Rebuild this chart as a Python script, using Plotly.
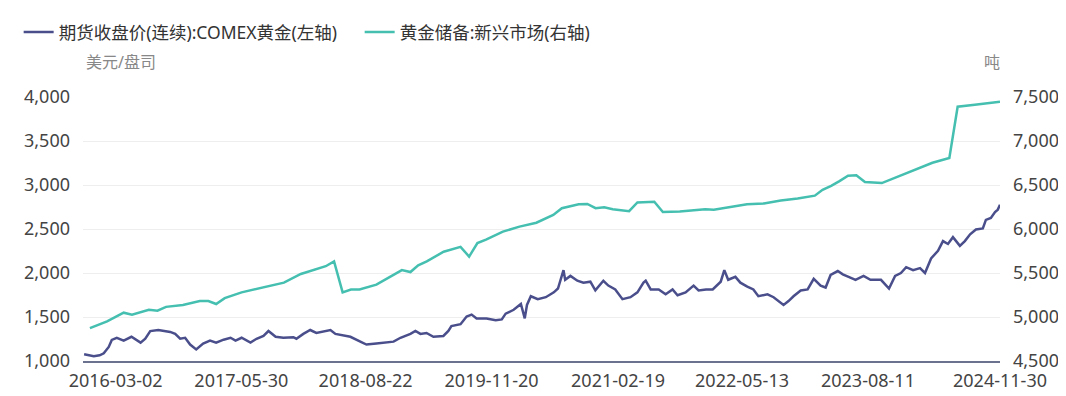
import plotly.graph_objects as go

# ---------------- data ----------------
gold_dates = [
    "2015-11-09", "2015-11-26", "2015-12-14", "2016-01-04", "2016-01-19", "2016-02-06", "2016-02-17",
    "2016-03-06", "2016-03-31", "2016-04-28", "2016-05-31", "2016-06-17", "2016-07-05", "2016-08-03",
    "2016-09-15", "2016-10-03", "2016-10-21", "2016-11-08", "2016-11-26", "2016-12-18", "2017-01-12",
    "2017-02-06", "2017-02-28", "2017-03-27", "2017-04-21", "2017-05-09", "2017-05-31", "2017-07-02",
    "2017-07-24", "2017-08-18", "2017-09-05", "2017-10-01", "2017-10-29", "2017-12-04", "2017-12-15",
    "2018-01-09", "2018-02-03", "2018-02-25", "2018-03-30", "2018-04-17", "2018-05-05", "2018-06-03",
    "2018-06-28", "2018-08-03", "2018-08-25", "2018-09-30", "2018-10-26", "2018-12-01", "2018-12-26",
    "2019-01-31", "2019-02-18", "2019-03-08", "2019-03-30", "2019-04-24", "2019-05-30", "2019-06-17",
    "2019-06-28", "2019-07-31", "2019-08-22", "2019-09-09", "2019-09-27", "2019-11-02", "2019-12-05",
    "2019-12-27", "2020-01-10", "2020-02-08", "2020-03-05", "2020-03-19", "2020-03-27", "2020-04-10",
    "2020-05-05", "2020-06-03", "2020-07-02", "2020-07-17", "2020-08-06", "2020-08-12", "2020-08-31",
    "2020-09-25", "2020-10-17", "2020-11-11", "2020-11-29", "2020-12-28", "2021-01-15", "2021-02-09",
    "2021-03-07", "2021-04-05", "2021-04-30", "2021-05-22", "2021-05-30", "2021-06-17", "2021-07-16",
    "2021-08-10", "2021-09-04", "2021-09-22", "2021-10-21", "2021-11-19", "2021-12-07", "2022-01-03",
    "2022-01-27", "2022-02-25", "2022-03-10", "2022-03-24", "2022-04-19", "2022-05-07", "2022-06-01",
    "2022-06-23", "2022-07-11", "2022-08-13", "2022-09-04", "2022-09-29", "2022-10-10", "2022-10-28",
    "2022-11-15", "2022-12-11", "2023-01-05", "2023-01-27", "2023-02-21", "2023-03-11", "2023-03-29",
    "2023-04-24", "2023-05-12", "2023-06-02", "2023-06-27", "2023-07-26", "2023-08-20", "2023-09-27",
    "2023-10-15", "2023-10-26", "2023-11-17", "2023-12-08", "2023-12-27", "2024-01-21", "2024-02-15",
    "2024-03-04", "2024-03-26", "2024-04-20", "2024-05-08", "2024-05-26", "2024-06-13", "2024-07-08",
    "2024-07-26", "2024-08-14", "2024-09-04", "2024-09-29", "2024-10-10", "2024-10-28", "2024-11-12",
    "2024-11-22", "2024-11-30",
]
gold_price = [
    1077, 1065, 1055, 1065, 1088, 1160, 1240,
    1264, 1231, 1275, 1209, 1253, 1340, 1352,
    1330, 1308, 1253, 1264, 1187, 1132, 1198,
    1231, 1209, 1242, 1264, 1231, 1264, 1209,
    1253, 1286, 1341, 1275, 1264, 1270, 1253,
    1308, 1352, 1319, 1341, 1352, 1308, 1286,
    1275, 1220, 1187, 1198, 1209, 1220, 1264,
    1308, 1341, 1308, 1319, 1275, 1285, 1341,
    1396, 1418, 1505, 1527, 1484, 1484, 1462,
    1473, 1538, 1582, 1648, 1484, 1637, 1736,
    1703, 1725, 1780, 1824, 2033, 1923, 1967,
    1912, 1890, 1901, 1802, 1912, 1857, 1813,
    1703, 1725, 1780, 1890, 1912, 1813, 1813,
    1758, 1813, 1747, 1780, 1857, 1802, 1813,
    1813, 1901, 2033, 1923, 1956, 1890, 1846,
    1813, 1736, 1758, 1725, 1670, 1637, 1681,
    1736, 1802, 1813, 1934, 1857, 1835, 1978,
    2022, 1985, 1956, 1923, 1967, 1923, 1923,
    1868, 1824, 1967, 2000, 2066, 2033, 2055,
    2000, 2165, 2253, 2363, 2330, 2407, 2308,
    2363, 2440, 2495, 2506, 2604, 2626, 2692,
    2720, 2775,
]

reserve_dates = [
    "2015-11-30", "2016-01-31", "2016-03-31", "2016-04-30", "2016-06-30", "2016-07-31", "2016-08-31",
    "2016-10-31", "2016-12-31", "2017-01-31", "2017-02-28", "2017-03-31", "2017-05-31", "2017-07-31",
    "2017-09-30", "2017-10-31", "2017-12-31", "2018-01-31", "2018-03-31", "2018-04-30", "2018-05-31",
    "2018-06-30", "2018-07-31", "2018-09-30", "2018-10-31", "2018-12-31", "2019-01-31", "2019-02-28",
    "2019-03-31", "2019-05-31", "2019-07-31", "2019-08-31", "2019-09-30", "2019-10-31", "2019-12-31",
    "2020-02-29", "2020-04-30", "2020-06-30", "2020-07-31", "2020-09-30", "2020-10-31", "2020-11-30",
    "2020-12-31", "2021-01-31", "2021-03-31", "2021-04-30", "2021-06-30", "2021-07-31", "2021-09-30",
    "2021-12-31", "2022-01-31", "2022-03-31", "2022-05-31", "2022-07-31", "2022-09-30", "2022-11-30",
    "2023-01-31", "2023-02-28", "2023-03-31", "2023-04-30", "2023-05-31", "2023-06-30", "2023-07-31",
    "2023-09-30", "2023-11-30", "2024-01-31", "2024-03-31", "2024-05-31", "2024-06-30", "2024-08-31",
    "2024-10-31", "2024-11-30",
]
reserve_tonnes = [
    4874, 4951, 5049, 5027, 5082, 5071, 5115,
    5137, 5181, 5181, 5148, 5214, 5280, 5324,
    5368, 5390, 5489, 5522, 5577, 5632, 5280,
    5313, 5313, 5368, 5423, 5533, 5511, 5588,
    5632, 5742, 5797, 5687, 5840, 5880, 5970,
    6027, 6071, 6159, 6236, 6280, 6285, 6236,
    6247, 6225, 6203, 6302, 6310, 6192, 6200,
    6225, 6220, 6247, 6280, 6291, 6324, 6346,
    6379, 6445, 6490, 6544, 6605, 6610, 6533,
    6522, 6599, 6676, 6753, 6808, 7390, 7412,
    7434, 7445,
]

x_tick_dates = ["2016-03-02", "2017-05-30", "2018-08-22", "2019-11-20",
                "2021-02-19", "2022-05-13", "2023-08-11", "2024-11-30"]
y_left_ticks = [1000, 1500, 2000, 2500, 3000, 3500, 4000]
y_right_ticks = [4500, 5000, 5500, 6000, 6500, 7000, 7500]

name_gold = "期货收盘价(连续):COMEX黄金(左轴)"
name_res = "黄金储备:新兴市场(右轴)"
unit_left = "美元/盘司"
unit_right = "吨"

# ---------------- figure ----------------
FONT = "Noto Sans, Noto Sans CJK SC, sans-serif"
GOLD_COLOR = "#4a4f8c"
RES_COLOR = "#45bfb0"
TICK_FONT = dict(size=18, color="#444444")

fig = go.Figure()
fig.add_trace(go.Scatter(x=gold_dates, y=gold_price, name=name_gold, mode="lines",
                         line=dict(color=GOLD_COLOR, width=2.5), yaxis="y"))
fig.add_trace(go.Scatter(x=reserve_dates, y=reserve_tonnes, name=name_res, mode="lines",
                         line=dict(color=RES_COLOR, width=2.5), yaxis="y2"))

fig.update_layout(
    width=1066, height=396,
    margin=dict(l=75, r=74, t=89, b=35),
    paper_bgcolor="white", plot_bgcolor="white",
    font=dict(family=FONT, color="#333333"),
    showlegend=True,
    legend=dict(orientation="h", xref="container", yref="container",
                x=0.01, y=0.939, xanchor="left", yanchor="middle",
                font=dict(size=17.5, color="#333333"), itemwidth=30,
                entrywidth=296, entrywidthmode="pixels",
                bgcolor="rgba(0,0,0,0)"),
    xaxis=dict(type="date", range=["2015-11-05", "2024-11-30"],
               tickmode="array", tickvals=x_tick_dates, ticktext=x_tick_dates,
               showgrid=False, showline=True, linecolor="#6b7290", linewidth=1.5,
               ticks="", tickfont=TICK_FONT, zeroline=False, ticklabelstandoff=3),
    yaxis=dict(range=[1000, 4000], tickmode="array", tickvals=y_left_ticks,
               tickformat=",d", showgrid=True, gridcolor="#eeeeee", gridwidth=1,
               zeroline=False, showline=False, ticks="",
               tickfont=TICK_FONT, ticklabelstandoff=12),
    yaxis2=dict(range=[4500, 7500], tickmode="array", tickvals=y_right_ticks,
                tickformat=",d", overlaying="y", side="right", showgrid=False,
                zeroline=False, showline=False, ticks="",
                tickfont=TICK_FONT, ticklabelstandoff=12),
    annotations=[
        dict(text=unit_left, xref="paper", yref="paper", x=0.001, y=1.132,
             xanchor="left", yanchor="middle", showarrow=False,
             font=dict(size=16, color="#888888")),
        dict(text=unit_right, xref="paper", yref="paper", x=0.991, y=1.132,
             xanchor="center", yanchor="middle", showarrow=False,
             font=dict(size=16, color="#888888")),
    ],
)

fig.write_html("out.html")
